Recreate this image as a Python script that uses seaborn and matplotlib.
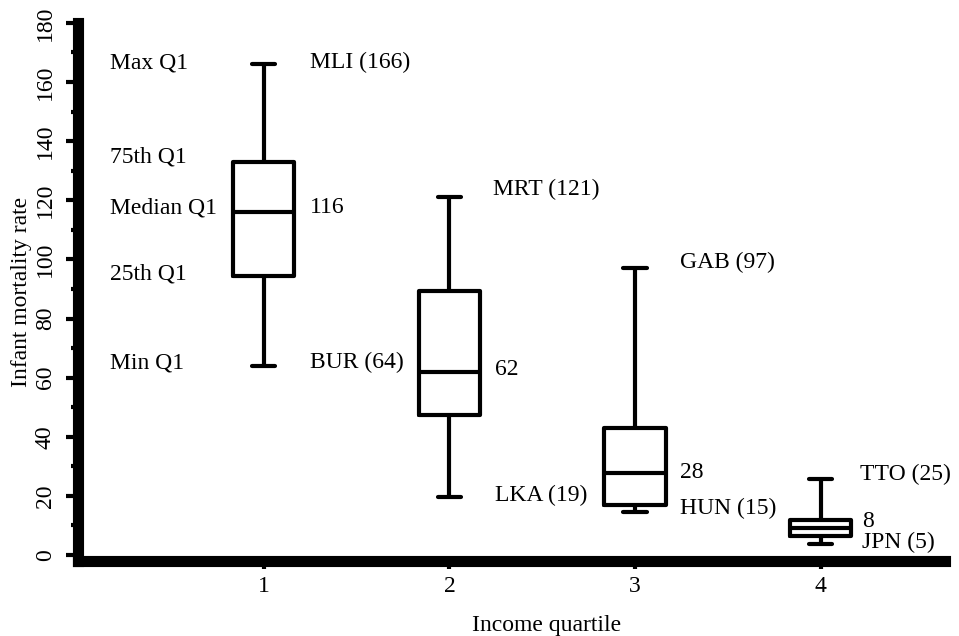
import matplotlib
matplotlib.use("Agg")
import matplotlib.pyplot as plt
import seaborn as sns
import pandas as pd
import numpy as np
from matplotlib.ticker import MultipleLocator

# ---- data ----
quartiles = ["1", "2", "3", "4"]
min_vals = [64, 19.5, 14.7, 3.7]
q1_vals = [94.5, 47.4, 16.9, 6.4]
median_vals = [116, 62, 27.6, 9.3]
q3_vals = [133, 89.4, 43.1, 11.9]
max_vals = [166, 121, 97, 25.8]

left_labels = ["Max Q1", "75th Q1", "Median Q1", "25th Q1", "Min Q1"]
left_label_y = [166.6, 134.5, 117.5, 95.2, 65.0]

annot_text = ["MLI (166)", "116", "BUR (64)",
              "MRT (121)", "62", "LKA (19)",
              "GAB (97)", "28", "HUN (15)",
              "TTO (25)", "8", "JPN (5)"]
annot_x = [0.248, 0.248, 0.248,
           1.233, 1.245, 1.245,
           2.240, 2.240, 2.240,
           3.209, 3.225, 3.225]
annot_y = [166.6, 117.5, 65.0,
           123.6, 62.7, 20.0,
           98.9, 27.8, 15.6,
           27.1, 11.2, 4.3]

rows = []
for q, a, b, c, d, e in zip(quartiles, min_vals, q1_vals, median_vals, q3_vals, max_vals):
    for v in (a, b, c, d, e):
        rows.append({"quartile": q, "rate": v})
df = pd.DataFrame(rows)

sns.set_theme(style="ticks")
plt.rcParams["font.family"] = ["Liberation Serif", "DejaVu Serif"]

fig = plt.figure(figsize=(9.59, 6.36), dpi=100)
ax = fig.add_axes([0.0815, 0.118, 0.904, 0.846])

lw = 3.0
sns.boxplot(data=df, x="quartile", y="rate", order=quartiles, whis=(0, 100),
            width=0.33, fill=False, color="black", linecolor="black",
            linewidth=lw, capwidths=0.125, ax=ax,
            medianprops=dict(color="black", linewidth=lw),
            whiskerprops=dict(color="black", linewidth=lw),
            capprops=dict(color="black", linewidth=lw),
            boxprops=dict(color="black", linewidth=lw))

ax.set_xlim(-1, 3.67)
ax.set_ylim(-2, 180)
ax.yaxis.set_major_locator(MultipleLocator(20))
ax.yaxis.set_minor_locator(MultipleLocator(10))

for s in ["top", "right"]:
    ax.spines[s].set_visible(False)
for s in ["left", "bottom"]:
    ax.spines[s].set_linewidth(8)
    ax.spines[s].set_color("black")
ax.spines["left"].set_bounds(-2, 180)

fs = 17
ax.tick_params(axis="y", which="major", length=9, width=3, direction="out",
               labelsize=fs, pad=7, colors="black")
ax.tick_params(axis="y", which="minor", length=5, width=3, direction="out", colors="black")
ax.tick_params(axis="x", which="major", length=6, width=3, direction="out",
               labelsize=fs, pad=5, colors="black")
for t in ax.get_yticklabels():
    t.set_rotation(90)
    t.set_va("center")

ax.set_xlabel("Income quartile", fontsize=fs, color="black", labelpad=13, x=0.54)
ax.set_ylabel("Infant mortality rate", fontsize=fs, color="black", labelpad=2)

for txt, yy in zip(left_labels, left_label_y):
    ax.text(-0.829, yy, txt, fontsize=fs, ha="left", va="center", color="black")
for txt, xx, yy in zip(annot_text, annot_x, annot_y):
    ax.text(xx, yy, txt, fontsize=fs, ha="left", va="center", color="black")

ax.set_facecolor("white")
fig.patch.set_facecolor("white")
fig.savefig("out.png", dpi=100)
